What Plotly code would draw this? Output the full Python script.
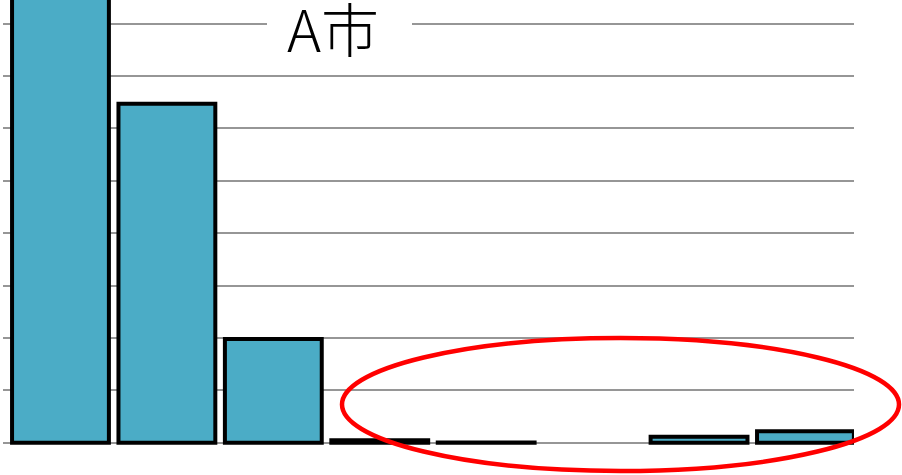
import plotly.graph_objects as go

# Data
categories = ["区分1", "区分2", "区分3", "区分4", "区分5", "区分6", "区分7", "区分8"]
values = [9.6, 6.47, 1.98, 0.05, 0.006, None, 0.115, 0.22]
y_ticks = [0, 1, 2, 3, 4, 5, 6, 7, 8]
title_text = "A市"

W, H = 902, 475
ML, MR, MT, MB = 3, 48, 0, 29
plot_w = W - ML - MR
plot_h = H - MT - MB


def px_to_paper_x(px):
    return (px - ML) / plot_w


def px_to_paper_y(py):
    return 1 - (py - MT) / plot_h


fig = go.Figure(
    go.Bar(
        x=list(range(len(categories))),
        y=values,
        width=0.91,
        marker=dict(color="#4BACC6", line=dict(color="#000000", width=4)),
        hoverinfo="skip",
    )
)

fig.update_layout(
    width=W,
    height=H,
    margin=dict(l=ML, r=MR, t=MT, b=MB),
    paper_bgcolor="white",
    plot_bgcolor="white",
    showlegend=False,
    xaxis=dict(
        range=[-0.54, 7.456],
        tickvals=list(range(len(categories))),
        ticktext=categories,
        showticklabels=False,
        showgrid=False,
        zeroline=False,
        showline=False,
        ticks="",
    ),
    yaxis=dict(
        range=[-0.06, 8.45],
        tickvals=y_ticks,
        showticklabels=False,
        showgrid=True,
        gridcolor="#969696",
        gridwidth=2,
        zeroline=True,
        zerolinecolor="#969696",
        zerolinewidth=2,
        showline=False,
        ticks="",
    ),
)

# White panel behind the title, interrupting the top gridline
fig.add_shape(
    type="rect",
    xref="paper", yref="paper",
    x0=px_to_paper_x(267), x1=px_to_paper_x(412),
    y0=px_to_paper_y(52), y1=px_to_paper_y(6),
    fillcolor="white", line=dict(width=0), layer="above",
)

fig.add_annotation(
    text=title_text,
    xref="paper", yref="paper",
    x=px_to_paper_x(333), y=px_to_paper_y(27),
    xanchor="center", yanchor="middle",
    showarrow=False,
    font=dict(family="Noto Sans CJK JP", size=58, color="#000000", weight=300),
)

# Red ellipse highlighting the small values
fig.add_shape(
    type="circle",
    xref="paper", yref="paper",
    x0=px_to_paper_x(342), x1=px_to_paper_x(899),
    y0=px_to_paper_y(471), y1=px_to_paper_y(338),
    line=dict(color="#FF0000", width=4.5),
    fillcolor="rgba(0,0,0,0)",
    layer="above",
)

fig.write_html("out.html")
